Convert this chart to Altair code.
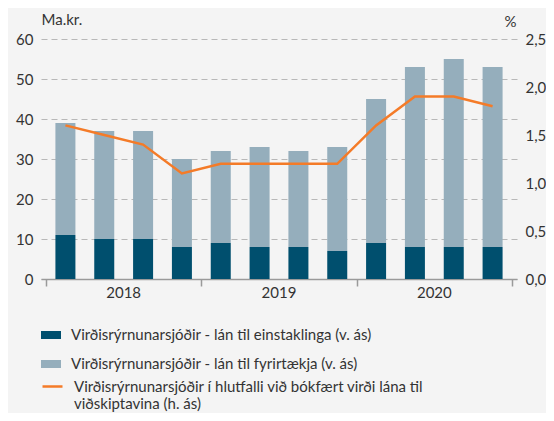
import altair as alt
import pandas as pd

quarters = ["2018Q1", "2018Q2", "2018Q3", "2018Q4",
            "2019Q1", "2019Q2", "2019Q3", "2019Q4",
            "2020Q1", "2020Q2", "2020Q3", "2020Q4"]
years = ["2018", "2019", "2020"]
individuals = [11, 10, 10, 8, 9, 8, 8, 7, 9, 8, 8, 8]
companies = [28, 27, 27, 22, 23, 25, 24, 26, 36, 45, 47, 45]
ratio = [1.6, 1.5, 1.4, 1.1, 1.2, 1.2, 1.2, 1.2, 1.6, 1.9, 1.9, 1.8]

s_ind = "Virðisrýrnunarsjóðir - lán til einstaklinga (v. ás)"
s_comp = "Virðisrýrnunarsjóðir - lán til fyrirtækja (v. ás)"
s_ratio = "Virðisrýrnunarsjóðir í hlutfalli við bókfært virði lána til|viðskiptavina (h. ás)"

FONT = "Lato"
TXT = "#333333"
W, H = 476, 240

rows = []
for i, q in enumerate(quarters):
    rows.append({"q": q, "pos": i + 0.5, "series": s_ind, "value": individuals[i], "o": 0})
    rows.append({"q": q, "pos": i + 0.5, "series": s_comp, "value": companies[i], "o": 1})
bars_df = pd.DataFrame(rows)
line_df = pd.DataFrame({"q": quarters, "pos": [i + 0.5 for i in range(len(quarters))],
                        "ratio": ratio, "series": s_ratio})
year_df = pd.DataFrame({"year": years, "pos": [4 * i + 2 for i in range(len(years))]})

xenc = alt.X("pos:Q", scale=alt.Scale(domain=[0, 12], nice=False, zero=False),
             axis=alt.Axis(values=[0, 4, 8, 12], labels=False, grid=False, title=None,
                           domainColor="#9a9a9a", domainWidth=1.5, tickColor="#9a9a9a",
                           tickWidth=1.5, tickSize=7))

bars = alt.Chart(bars_df).mark_bar(size=20).encode(
    x=xenc,
    y=alt.Y("value:Q", stack="zero", scale=alt.Scale(domain=[0, 60], nice=False),
            axis=alt.Axis(values=[0, 10, 20, 30, 40, 50, 60], grid=True, gridDash=[6, 4],
                          gridColor="#b8b8b8", gridWidth=1, domain=False, ticks=False,
                          labelPadding=8, labelFont=FONT, labelFontSize=15, labelColor=TXT,
                          title="Ma.kr.", titleAngle=0, titleX=0, titleY=-20,
                          titleAlign="left", titleBaseline="middle", titleFont=FONT,
                          titleFontSize=15, titleFontWeight="normal", titleColor=TXT)),
    color=alt.Color("series:N", scale=alt.Scale(domain=[s_ind, s_comp], range=["#004f6e", "#95aebc"]),
                    legend=alt.Legend(orient="none", legendX=0, legendY=286, title=None,
                                      direction="vertical",
                                      symbolType="M-1,-0.4H1V0.4H-1Z", symbolSize=400,
                                      symbolStrokeWidth=0, labelFont=FONT, labelFontSize=15,
                                      labelColor=TXT, rowPadding=11, labelOffset=10,
                                      padding=0, labelLimit=500)),
    order=alt.Order("o:Q"),
)

line = alt.Chart(line_df).mark_line(strokeWidth=2.5).encode(
    x=xenc,
    y=alt.Y("ratio:Q", scale=alt.Scale(domain=[0, 2.5], nice=False),
            axis=alt.Axis(orient="right", values=[0, 0.5, 1, 1.5, 2, 2.5], grid=False,
                          domain=False, ticks=False, labelPadding=8,
                          labelExpr="replace(format(datum.value, '.1f'), '.', ',')",
                          labelFont=FONT, labelFontSize=15, labelColor=TXT,
                          title="%", titleAngle=0, titleX=-1, titleY=-18,
                          titleAlign="right", titleBaseline="middle", titleFont=FONT,
                          titleFontSize=15, titleFontWeight="normal", titleColor=TXT)),
    stroke=alt.Stroke("series:N", scale=alt.Scale(domain=[s_ratio], range=["#f47b28"]),
                      legend=alt.Legend(orient="none", legendX=0, legendY=336, title=None,
                                        symbolType="M-1,0H1", symbolSize=400,
                                        symbolStrokeWidth=2.5, labelFont=FONT,
                                        labelFontSize=15, labelColor=TXT, labelOffset=10,
                                        padding=0, labelLimit=500,
                                        labelExpr="split(datum.label, '|')")),
)

year_text = alt.Chart(year_df).mark_text(font=FONT, fontSize=15, color=TXT, baseline="middle").encode(
    x=xenc,
    y=alt.value(H + 14),
    text="year:N",
)

chart = alt.layer(bars, line, year_text).resolve_scale(y="independent").properties(
    width=W, height=H,
    background="#f4f4f4",
    padding={"left": 33, "top": 31, "right": 29, "bottom": 405 - 31 - H},
    autosize=alt.AutoSizeParams(type="none"),
).configure_view(stroke=None)

chart.save("out.html", embed_options={"renderer": "svg", "actions": False})
